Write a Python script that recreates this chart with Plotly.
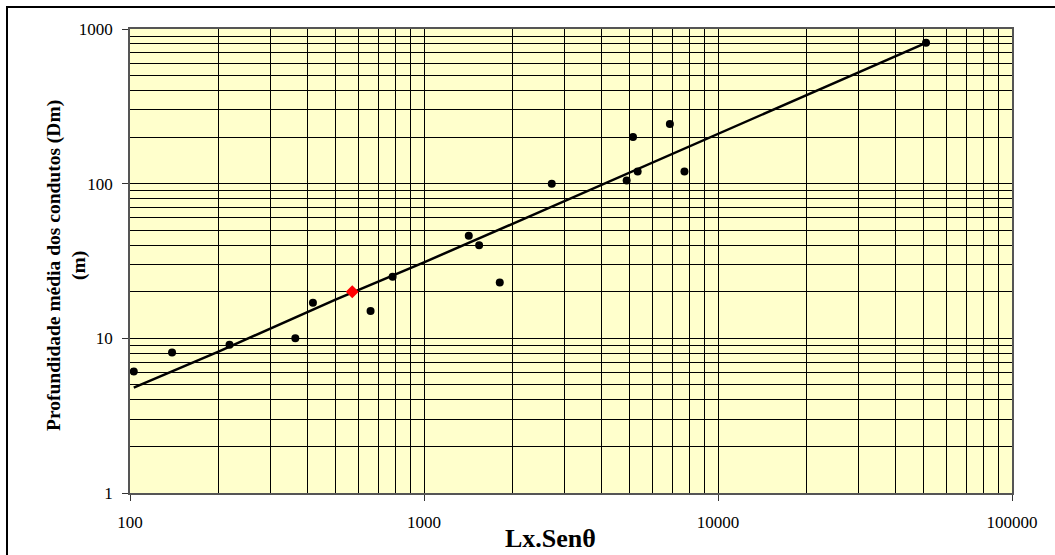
import plotly.graph_objects as go

# Observed data (Lx.Senθ vs depth Dm)
lx_sen = [103, 139, 218, 365, 419, 658, 782, 1420, 1540, 1810, 2720,
          4890, 5140, 5330, 6860, 7690, 51000]
dm = [6.1, 8.1, 9.1, 10, 17, 15, 25, 46, 40, 23, 100,
      105, 200, 120, 243, 120, 814]

# Highlighted point (red diamond)
hl_x = [570]
hl_y = [20]

# Trend line
trend_x = [103, 200, 500, 1000, 2000, 3000, 5000, 10000, 20000, 51000]
trend_y = [4.8, 8.2, 17.8, 31, 55, 77, 118, 210, 370, 814]

x_major = [100, 1000, 10000, 100000]
y_major = [1, 10, 100, 1000]


def minor_vals(lo, hi):
    vals = []
    d = lo
    while d < hi:
        for m in range(2, 10):
            vals.append(m * d)
        d *= 10
    return vals


x_minor = minor_vals(100, 100000)
y_minor = minor_vals(1, 1000)

font_family = "Liberation Serif, Times New Roman, serif"

fig = go.Figure()
fig.add_trace(go.Scatter(x=trend_x, y=trend_y, mode="lines",
                         line=dict(color="black", width=2.5), hoverinfo="skip",
                         showlegend=False))
fig.add_trace(go.Scatter(x=lx_sen, y=dm, mode="markers",
                         marker=dict(color="black", size=8), showlegend=False))
fig.add_trace(go.Scatter(x=hl_x, y=hl_y, mode="markers",
                         marker=dict(color="#FF0000", size=10, symbol="diamond"),
                         showlegend=False))

axis_common = dict(
    type="log",
    showgrid=True, gridcolor="black", gridwidth=1,
    ticks="outside", ticklen=6, tickcolor="#333333",
    showline=True, linecolor="#555555", linewidth=1.5, mirror=True,
    tickfont=dict(family=font_family, size=17, color="black"),
    zeroline=False,
)

fig.update_xaxes(
    range=[2, 5], tickmode="array", tickvals=x_major,
    ticktext=[str(v) for v in x_major],
    minor=dict(tickmode="array", tickvals=x_minor, showgrid=True,
               gridcolor="black", gridwidth=1, ticks=""),
    ticklabelstandoff=7,
    **axis_common,
)
fig.update_yaxes(
    range=[0, 3], tickmode="array", tickvals=y_major,
    ticktext=[str(v) for v in y_major],
    minor=dict(tickmode="array", tickvals=y_minor, showgrid=True,
               gridcolor="black", gridwidth=1, ticks=""),
    ticklabelstandoff=6,
    **axis_common,
)

L, R, T, B = 130, 43, 29, 62
W, H = 1055, 555
pw, ph = W - L - R, H - T - B

fig.update_layout(
    width=W, height=H,
    margin=dict(l=L, r=R, t=T, b=B),
    paper_bgcolor="white",
    plot_bgcolor="#FFFFCC",
    font=dict(family=font_family, color="black"),
    annotations=[
        dict(text="<b>Lx.Senθ</b>", xref="paper", yref="paper",
             x=(550 - L) / pw, y=-(538 - (H - B)) / ph,
             xanchor="center", yanchor="middle", showarrow=False,
             font=dict(family=font_family, size=26, color="black")),
        dict(text="<b>Profundidade média dos condutos (Dm)<br>(m)</b>",
             xref="paper", yref="paper", textangle=-90,
             x=(66 - L) / pw, y=((H - B) - 266) / ph,
             xanchor="center", yanchor="middle",
             showarrow=False,
             font=dict(family=font_family, size=19.5, color="black")),
    ],
    shapes=[
        dict(type="rect", xref="paper", yref="paper",
             x0=(7 - L) / pw, x1=1.2, y0=-0.3, y1=1 + (T - 7) / ph,
             line=dict(color="black", width=2), fillcolor="rgba(0,0,0,0)",
             layer="below"),
    ],
)

fig.write_html("out.html",
               config={"displayModeBar": False},
               post_script="document.body.style.margin='0';document.body.style.overflow='hidden';")
